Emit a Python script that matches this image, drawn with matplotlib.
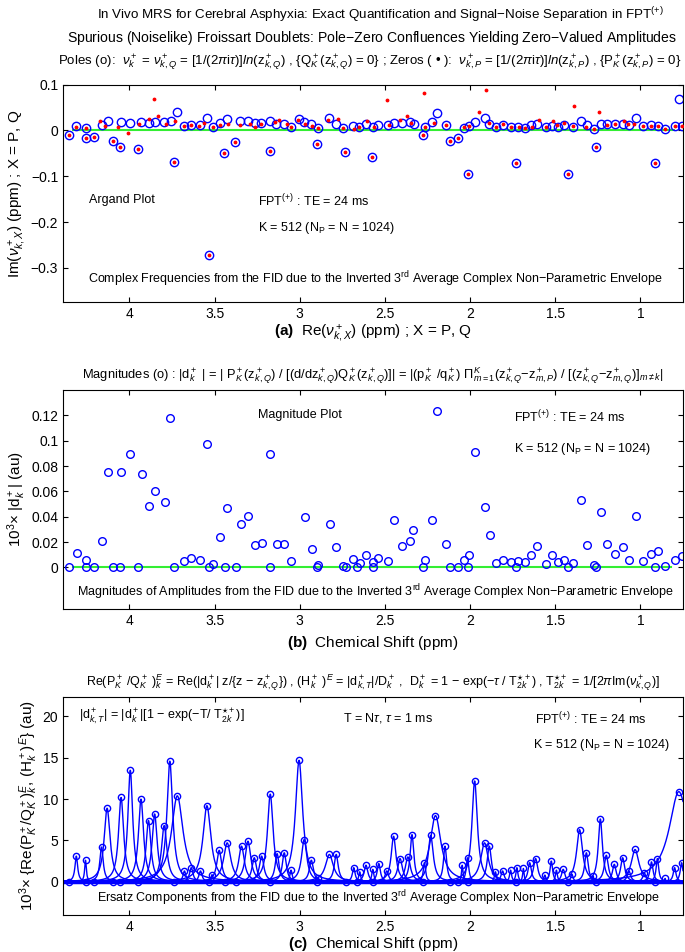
import numpy as np
import matplotlib.pyplot as plt

plt.rcParams['font.family'] = ['Liberation Sans', 'DejaVu Sans']
plt.rcParams['mathtext.fontset'] = 'custom'
plt.rcParams['mathtext.rm'] = 'Liberation Sans'
plt.rcParams['mathtext.it'] = 'Liberation Sans:italic'
plt.rcParams['mathtext.bf'] = 'Liberation Sans:bold'
plt.rcParams['xtick.direction'] = 'in'
plt.rcParams['ytick.direction'] = 'in'
plt.rcParams['xtick.top'] = True
plt.rcParams['ytick.right'] = True

# ---- panel (a): poles (o) and zeros (.) in ppm ----
pole_re = [4.352, 4.313, 4.254, 4.254, 4.211, 4.164, 4.127, 4.098, 4.055, 4.051,
           3.994, 3.951, 3.932, 3.888, 3.847, 3.796, 3.755, 3.740, 3.718, 3.679,
           3.640, 3.585, 3.546, 3.530, 3.511, 3.470, 3.444, 3.425, 3.382, 3.348,
           3.305, 3.262, 3.225, 3.176, 3.174, 3.139, 3.092, 3.053, 3.004, 2.973,
           2.933, 2.900, 2.890, 2.830, 2.787, 2.744, 2.734, 2.685, 2.650, 2.611,
           2.573, 2.568, 2.538, 2.483, 2.444, 2.401, 2.354, 2.331, 2.278, 2.262,
           2.223, 2.196, 2.139, 2.115, 2.072, 2.035, 2.014, 2.006, 1.971, 1.910,
           1.886, 1.847, 1.804, 1.759, 1.730, 1.718, 1.679, 1.644, 1.609, 1.554,
           1.517, 1.485, 1.450, 1.423, 1.395, 1.350, 1.315, 1.274, 1.260, 1.233,
           1.194, 1.147, 1.102, 1.065, 1.027, 0.982, 0.935, 0.912, 0.896, 0.855,
           0.796, 0.771, 0.755]
pole_im = [-0.009, 0.0095, 0.006, -0.017, -0.0146, 0.012, 0.021, -0.023, -0.037, 0.018,
           0.017, -0.040, 0.018, 0.017, 0.018, 0.019, 0.020, -0.069, 0.041, 0.010,
           0.012, 0.011, 0.028, -0.271, 0.0066, 0.017, -0.050, 0.0255, -0.025, 0.020,
           0.020, 0.016, 0.016, 0.020, -0.045, 0.014, 0.014, 0.008, 0.0255, 0.019,
           0.014, -0.029, 0.005, 0.028, 0.014, 0.005, -0.046, 0.0095, 0.0066, 0.013,
           -0.058, 0.007, 0.011, 0.0124, 0.0168, 0.0168, 0.018, 0.013, -0.0095, 0.008,
           0.018, 0.039, 0.011, -0.022, -0.017, 0.005, -0.096, 0.009, 0.019, 0.027,
           0.015, 0.007, 0.011, 0.007, -0.070, 0.007, 0.005, 0.012, 0.015, 0.007,
           0.009, 0.0066, 0.0117, -0.095, 0.008, 0.021, 0.0124, 0.0036, -0.037, 0.0146,
           0.0146, 0.013, 0.0139, 0.0117, 0.027, 0.010, 0.011, -0.071, 0.009, 0.0036,
           0.0095, 0.069, 0.0095]

zero_re = [4.352, 4.254, 4.211, 4.098, 4.055, 3.951, 3.740, 3.530, 3.444, 3.382,
           3.174, 2.900, 2.734, 2.573, 2.278, 2.115, 2.072, 2.014, 1.730, 1.423,
           1.260, 0.912,
           4.313, 4.256, 4.172, 4.145, 4.065, 4.006, 3.943, 3.883, 3.853, 3.830,
           3.785, 3.732, 3.679, 3.640, 3.589, 3.562, 3.511, 3.466, 3.423, 3.348,
           3.295, 3.262, 3.227, 3.145, 3.119, 3.076, 3.053, 3.010, 2.969, 2.926,
           2.890, 2.832, 2.777, 2.744, 2.681, 2.650, 2.607, 2.564, 2.487, 2.476,
           2.413, 2.370, 2.344, 2.268, 2.262, 2.213, 2.139, 2.035, 2.006, 1.945,
           1.904, 1.890, 1.847, 1.804, 1.759, 1.714, 1.679, 1.638, 1.597, 1.554,
           1.513, 1.489, 1.450, 1.395, 1.387, 1.319, 1.274, 1.245, 1.198, 1.147,
           1.094, 1.070, 1.039, 0.982, 0.935, 0.898, 0.855, 0.796, 0.755]
zero_im = [-0.009, -0.017, -0.0146, -0.023, -0.037, -0.040, -0.069, -0.271, -0.050, -0.025,
           -0.045, -0.029, -0.046, -0.058, -0.0095, -0.022, -0.017, -0.096, -0.070, -0.095,
           -0.037, -0.071,
           0.0066, 0.0058, 0.0197, 0.0088, 0.0066, -0.0058, 0.0139, 0.0248, 0.0686, 0.0321,
           0.0139, 0.0212, 0.0102, 0.0117, 0.0095, 0.0168, 0.0066, 0.0117, 0.0146, 0.0117,
           0.0146, 0.008, 0.0146, 0.019, 0.0234, 0.0139, 0.008, 0.0226, 0.0131, 0.0095,
           0.0051, 0.0234, 0.0241, 0.0051, 0.0036, 0.0066, 0.0212, 0.0066, 0.0657, 0.0124,
           0.0219, 0.0307, 0.0168, 0.0818, 0.008, 0.0168, 0.011, 0.0066, 0.0088, 0.0394,
           0.0883, 0.0168, 0.0073, 0.0146, 0.0073, 0.0066, 0.0051, 0.0066, 0.0234, 0.0073,
           0.0197, 0.011, 0.0168, 0.0095, 0.0526, 0.0066, 0.0036, 0.0394, 0.0124, 0.0146,
           0.0204, 0.0146, 0.0146, 0.0102, 0.0102, 0.0088, 0.0036, 0.0095, 0.0088]

# ---- panel (b): magnitudes |d_k| ----
mag_ppm = [4.352, 4.309, 4.256, 4.254, 4.211, 4.160, 4.127, 4.098, 4.055, 4.049,
           3.994, 3.951, 3.928, 3.888, 3.849, 3.793, 3.759, 3.740, 3.679, 3.638,
           3.587, 3.546, 3.534, 3.511, 3.470, 3.440, 3.425, 3.376, 3.344, 3.303,
           3.264, 3.223, 3.174, 3.172, 3.131, 3.090, 3.051, 2.971, 2.930, 2.900,
           2.890, 2.824, 2.787, 2.748, 2.730, 2.685, 2.663, 2.646, 2.613, 2.571,
           2.568, 2.538, 2.479, 2.444, 2.401, 2.352, 2.333, 2.278, 2.262, 2.225,
           2.196, 2.139, 2.115, 2.072, 2.035, 2.012, 2.006, 1.971, 1.910, 1.883,
           1.847, 1.804, 1.759, 1.730, 1.718, 1.679, 1.644, 1.609, 1.554, 1.517,
           1.485, 1.450, 1.423, 1.395, 1.350, 1.315, 1.274, 1.260, 1.233, 1.194,
           1.147, 1.102, 1.065, 1.025, 0.982, 0.935, 0.912, 0.896, 0.855, 0.796,
           0.755]
mag_val = [0, 0.0111, 0.0061, 0, 0, 0.0205, 0.0755, 0, 0, 0.075,
           0.0892, 0, 0.0739, 0.0482, 0.060, 0.0513, 0.118, 0, 0.0053, 0.0076,
           0.0055, 0.0974, 0, 0.0026, 0.0242, 0, 0.0471, 0, 0.0339, 0.0408,
           0.0174, 0.0195, 0, 0.0897, 0.0187, 0.0187, 0.0047, 0.0395, 0.0147, 0,
           0.0018, 0.0339, 0.016, 0.0008, 0, 0.0066, 0, 0.0032, 0.0095, 0,
           0.0045, 0.0071, 0.0053, 0.0371, 0.0171, 0.0211, 0.0292, 0, 0.0061, 0.0371,
           0.1237, 0.0182, 0, 0, 0.0055, 0, 0.0097, 0.0908, 0.0479, 0.0253,
           0.0034, 0.0055, 0.0045, 0, 0.005, 0.0039, 0.010, 0.0166, 0.0024, 0.0095,
           0.0039, 0.0061, 0, 0.0032, 0.0532, 0.0174, 0.0016, 0, 0.0439, 0.0187,
           0.0108, 0.016, 0.0061, 0.0403, 0.0047, 0.0108, 0, 0.0126, 0.0008, 0.0058,
           0.0092]

# ---- panel (c): ersatz component peak heights (x 10^3 au) ----
peak_ppm = [4.312, 4.258, 4.164, 4.131, 4.049, 3.995, 3.932, 3.888, 3.852, 3.796,
            3.763, 3.719, 3.677, 3.637, 3.583, 3.545, 3.515, 3.473, 3.426, 3.342,
            3.304, 3.267, 3.224, 3.173, 3.133, 3.091, 3.051, 3.004, 2.974, 2.932,
            2.892, 2.826, 2.786, 2.683, 2.648, 2.611, 2.571, 2.536, 2.489, 2.449,
            2.411, 2.365, 2.341, 2.268, 2.231, 2.203, 2.147, 2.046, 2.015, 1.973,
            1.915, 1.887, 1.851, 1.809, 1.762, 1.725, 1.687, 1.650, 1.615, 1.561,
            1.523, 1.493, 1.453, 1.402, 1.357, 1.317, 1.277, 1.235, 1.200, 1.153,
            1.104, 1.067, 1.031, 0.977, 0.935, 0.900, 0.855, 0.799, 0.774, 0.758]
peak_h = [3.1, 2.6, 4.2, 8.9, 10.2, 13.5, 10.0, 7.4, 8.2, 6.8,
          14.6, 10.4, 1.3, 1.7, 1.3, 9.2, 0.85, 3.8, 4.7, 4.3,
          4.9, 2.9, 3.1, 10.6, 3.4, 3.5, 1.4, 14.7, 5.1, 2.6,
          0.5, 3.3, 3.3, 1.7, 1.2, 2.0, 1.5, 2.2, 1.3, 5.5,
          2.8, 3.0, 5.7, 2.3, 5.6, 8.0, 4.3, 2.0, 2.9, 12.2,
          4.7, 4.3, 1.2, 1.3, 1.4, 1.7, 1.6, 2.3, 2.8, 0.8,
          2.5, 1.4, 1.5, 0.9, 6.3, 3.5, 0.7, 7.6, 3.2, 2.1,
          2.9, 1.3, 3.9, 1.1, 2.4, 2.8, 0.4, 1.7, 10.9, 2.3]

blue = '#0000ff'
fig = plt.figure(figsize=(6.85, 9.52), dpi=100)
fs = 9
xlim = (4.39, 0.75)
xt = [4, 3.5, 3, 2.5, 2, 1.5, 1]
xtl = ['4', '3.5', '3', '2.5', '2', '1.5', '1']

fig.text(0.555, 1 - 19 / 952, r"In Vivo MRS for Cerebral Asphyxia: Exact Quantification and Signal$-$Noise Separation in FPT$^{(+)}$",
         ha='center', va='baseline', fontsize=9.6)
fig.text(0.543, 1 - 42 / 952, r"Spurious (Noiselike) Froissart Doublets: Pole$-$Zero Confluences Yielding Zero$-$Valued Amplitudes",
         ha='center', va='baseline', fontsize=10.1)
fig.text(0.540, 1 - 65 / 952, r"Poles (o):  $\nu^+_k$ = $\nu^+_{k,Q}$ = [1/(2$\pi$i$\tau$)]$\mathit{ln}$(z$^+_{k,Q}$) , {Q$^+_K$(z$^+_{k,Q}$) = 0} ; Zeros ( " + "\u2022" + r" ):  $\nu^+_{k,P}$ = [1/(2$\pi$i$\tau$)]$\mathit{ln}$(z$^+_{k,P}$) , {P$^+_K$(z$^+_{k,P}$) = 0}",
         ha='center', va='baseline', fontsize=9.5)

# (a) Argand plot
ax1 = fig.add_axes([0.092, 0.6825, 0.905, 0.2286])
ax1.plot([4.33, 0.80], [0, 0], color='#33ee33', lw=1.5, zorder=1)
ax1.plot(pole_re, pole_im, 'o', mfc='none', mec=blue, ms=6, mew=1.0, zorder=2)
ax1.plot(zero_re, zero_im, '.', color='#ff0000', ms=3.5, zorder=3)
ax1.set_xlim(xlim)
ax1.set_ylim(-0.375, 0.1)
ax1.set_xticks(xt)
ax1.set_xticklabels(xtl)
ax1.set_yticks([-0.3, -0.2, -0.1, 0, 0.1])
ax1.set_yticklabels(['\u22120.3', '\u22120.2', '\u22120.1', '0', '0.1'])
ax1.tick_params(labelsize=fs + 1)
ax1.text(4.24, -0.151, 'Argand Plot', fontsize=fs, va='center')
ax1.text(3.246, -0.154, r'FPT$^{(+)}$ : TE = 24 ms', fontsize=fs, va='center')
ax1.text(3.246, -0.212, r'K = 512 (N$_{\rm P}$ = N = 1024)', fontsize=fs, va='center')
ax1.text(2.556, -0.325, r'Complex Frequencies from the FID due to the Inverted 3$^{\rm rd}$ Average Complex Non$-$Parametric Envelope',
         fontsize=fs, ha='center', va='center')
ax1.set_xlabel(r'$\mathbf{(a)}$  Re($\nu^+_{k,X}$) (ppm) ; X = P, Q', fontsize=fs + 2, labelpad=1)
ax1.set_ylabel(r'Im($\nu^+_{k,X}$) (ppm) ; X = P, Q', fontsize=fs + 2, labelpad=2)

# (b) magnitudes
mag_ppm = np.array(mag_ppm)
mag_val = np.array(mag_val)
ax2 = fig.add_axes([0.092, 0.360, 0.905, 0.2304])
ax2.plot([4.33, 0.82], [0, 0], color='#33ee33', lw=1.5, zorder=1)
ax2.plot(mag_ppm, mag_val, 'o', mfc='none', mec=blue, ms=5.5, mew=1.0, zorder=2)
ax2.set_xlim(xlim)
ax2.set_ylim(-0.033, 0.14)
ax2.set_xticks(xt)
ax2.set_xticklabels(xtl)
ax2.set_yticks([0, 0.02, 0.04, 0.06, 0.08, 0.1, 0.12])
ax2.set_yticklabels(['0', '0.02', '0.04', '0.06', '0.08', '0.1', '0.12'])
ax2.tick_params(labelsize=fs + 1)
ax2.text(3.243, 0.120, 'Magnitude Plot', fontsize=fs, va='center')
ax2.text(1.743, 0.1188, r'FPT$^{(+)}$ : TE = 24 ms', fontsize=fs, va='center')
ax2.text(1.743, 0.0932, r'K = 512 (N$_{\rm P}$ = N = 1024)', fontsize=fs, va='center')
ax2.text(2.556, -0.0192, r'Magnitudes of Amplitudes from the FID due to the Inverted 3$^{\rm rd}$ Average Complex Non$-$Parametric Envelope',
         fontsize=fs, ha='center', va='center')
ax2.set_title(r'Magnitudes (o) : |d$^+_k$ | = | P$^+_K$(z$^+_{k,Q}$) / [(d/dz$^+_{k,Q}$)Q$^+_K$(z$^+_{k,Q}$)]| = |(p$^+_K$ /q$^+_K$) $\Pi^K_{m=1}$(z$^+_{k,Q}$$-$z$^+_{m,P}$) / [(z$^+_{k,Q}$$-$z$^+_{m,Q}$)]$_{m\neq k}$|',
              fontsize=9.3, pad=8)
ax2.set_xlabel(r'$\mathbf{(b)}$  Chemical Shift (ppm)', fontsize=fs + 2, labelpad=4)
ax2.set_ylabel(r'10$^3$$\times$ |d$^+_k$| (au)', fontsize=fs + 2, labelpad=2)

# (c) ersatz components
ax3 = fig.add_axes([0.092, 0.0389, 0.905, 0.2293])
pole_re_a = np.array(pole_re)
pole_im_a = np.array(pole_im)
pos = pole_im_a > 0
grid = np.linspace(4.39, 0.75, 3000)
for p, h in zip(peak_ppm, peak_h):
    j = np.argmin(np.abs(pole_re_a[pos] - p))
    g = pole_im_a[pos][j]
    ax3.plot(grid, h * g**2 / ((grid - p)**2 + g**2), color=blue, lw=1.0)
    ax3.plot(p, h, 'o', mfc='none', mec=blue, ms=4.5, mew=1.0)
null_ppm = mag_ppm[mag_val == 0]
ax3.plot([4.39, 0.75], [0, 0], color=blue, lw=2.5)
ax3.plot(null_ppm, np.zeros(len(null_ppm)), 'o', mfc='none', mec=blue, ms=4.5, mew=1.0)
ax3.set_xlim(xlim)
ax3.set_ylim(-4.03, 22.4)
ax3.set_xticks(xt)
ax3.set_xticklabels(xtl)
ax3.set_yticks([0, 5, 10, 15, 20])
ax3.tick_params(labelsize=fs + 1)
ax3.text(4.294, 19.95, r'|d$^+_{k,T}$| = |d$^+_k$|[1 $-$ exp($-$T/ T$^{\star+}_{2k}$)]', fontsize=fs, va='center')
ax3.text(2.745, 19.8, r'T = N$\tau$, $\tau$ = 1 ms', fontsize=fs, va='center')
ax3.text(1.618, 19.7, r'FPT$^{(+)}$ : TE = 24 ms', fontsize=fs, va='center')
ax3.text(1.63, 16.5, r'K = 512 (N$_{\rm P}$ = N = 1024)', fontsize=fs, va='center')
ax3.text(2.54, -2.0, r'Ersatz Components from the FID due to the Inverted 3$^{\rm rd}$ Average Complex Non$-$Parametric Envelope',
         fontsize=fs, ha='center', va='center')
ax3.set_title(r'Re(P$^+_K$ /Q$^+_K$ )$^E_k$ = Re(|d$^+_k$| z/{z $-$ z$^+_{k,Q}$}) , (H$^+_k$ )$^E$ = |d$^+_{k,T}$|/D$^+_k$ ,  D$^+_k$ = 1 $-$ exp($-\tau$ / T$^{\star+}_{2k}$) , T$^{\star+}_{2k}$ = 1/[2$\pi$Im($\nu^+_{k,Q}$)]',
              fontsize=9.0, pad=8)
ax3.set_xlabel(r'$\mathbf{(c)}$  Chemical Shift (ppm)', fontsize=fs + 2, labelpad=1)
ax3.set_ylabel(r'10$^3$$\times$ {Re(P$^+_K$/Q$^+_K$)$^E_k$, (H$^+_k$)$^E$} (au)', fontsize=fs + 2, labelpad=2)

fig.savefig('out.png', dpi=100)
